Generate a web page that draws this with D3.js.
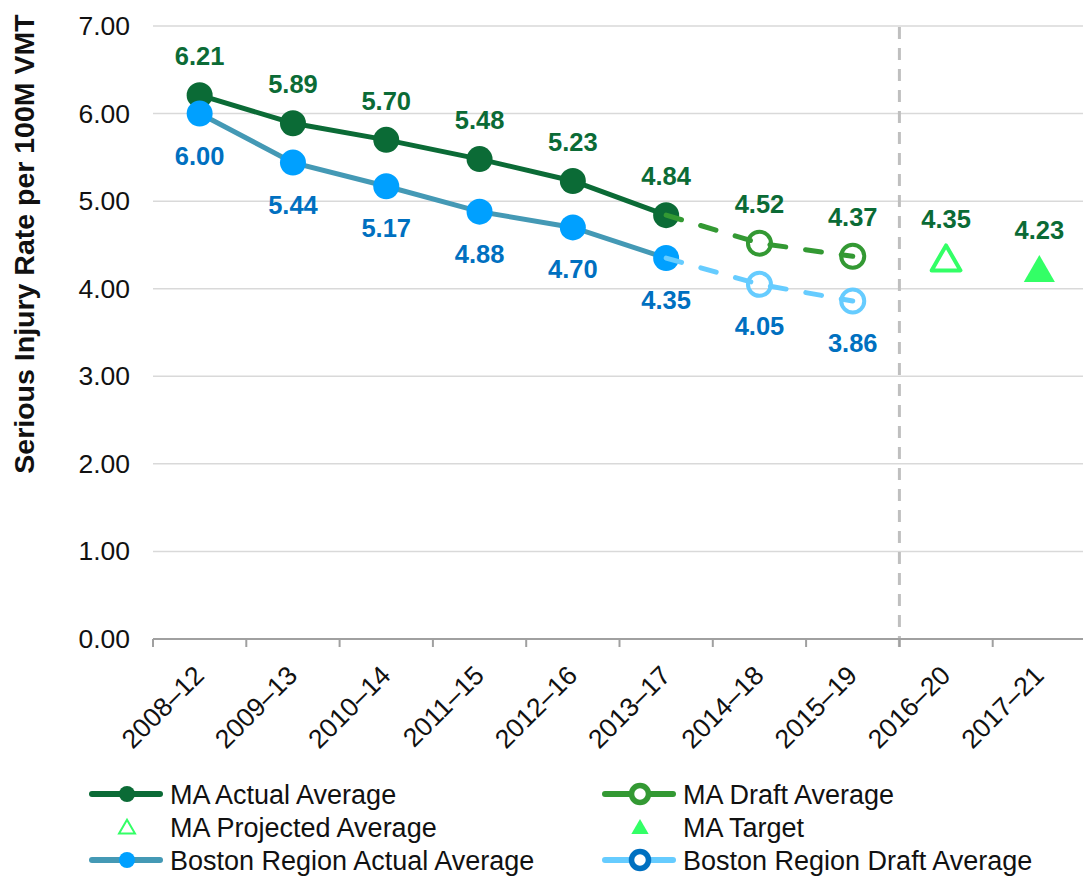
<!DOCTYPE html>
<html lang="en">
<head>
    <meta charset="UTF-8">
    <title>Serious Injury Rate per 100M VMT</title>
    <script src="https://d3js.org/d3.v7.min.js"></script>
    <style>
        body {
            margin: 0;
            background: #fff;
            font-family: "Liberation Sans", Arial, sans-serif;
        }
        svg text {
            font-family: "Liberation Sans", Arial, sans-serif;
        }
    </style>
</head>
<body>
    <div id="chart"></div>

    <script>
        // periods on the x axis
        const periods = ["2008–12", "2009–13", "2010–14", "2011–15", "2012–16",
                         "2013–17", "2014–18", "2015–19", "2016–20", "2017–21"];

        // series values
        const maActualPeriods = periods.slice(0, 6);
        const maActual = [6.21, 5.89, 5.70, 5.48, 5.23, 4.84];
        const bostonActual = [6.00, 5.44, 5.17, 4.88, 4.70, 4.35];

        const draftPeriods = periods.slice(5, 8);
        const maDraft = [4.84, 4.52, 4.37];
        const bostonDraft = [4.35, 4.05, 3.86];

        const projectedPeriod = "2016–20";
        const maProjected = 4.35;
        const targetPeriod = "2017–21";
        const maTarget = 4.23;

        const yTicks = [0, 1, 2, 3, 4, 5, 6, 7];

        const colors = {
            maActual: "#0b6b36",
            maDraft: "#339933",
            bostonLine: "#4499b5",
            bostonDot: "#00a0ff",
            bostonLabel: "#0070c0",
            bostonDraft: "#66ccff",
            target: "#33ff66",
            grid: "#d9d9d9",
            axis: "#a0a0a0"
        };

        const width = 1083, height = 876;
        const svg = d3.select("#chart").append("svg")
            .attr("width", width)
            .attr("height", height);

        const x = d3.scaleBand().domain(periods).range([153, 1086]);
        const cx = d => x(d) + x.bandwidth() / 2;
        const y = d3.scaleLinear().domain([0, 7]).range([639, 26]);

        // gridlines
        svg.append("g")
            .selectAll("line")
            .data(yTicks.filter(t => t > 0))
            .enter()
            .append("line")
            .attr("x1", 153).attr("x2", 1086)
            .attr("y1", d => y(d)).attr("y2", d => y(d))
            .attr("stroke", colors.grid)
            .attr("stroke-width", 1.5);

        // y tick labels
        svg.append("g")
            .selectAll("text")
            .data(yTicks)
            .enter()
            .append("text")
            .attr("x", 130)
            .attr("y", d => y(d) + 9)
            .attr("text-anchor", "end")
            .attr("font-size", 26.5)
            .attr("fill", "#111")
            .text(d => d.toFixed(2));

        // y axis title
        svg.append("text")
            .attr("transform", "translate(34,244) rotate(-90)")
            .attr("text-anchor", "middle")
            .attr("font-size", 28.5)
            .attr("font-weight", "bold")
            .attr("fill", "#111")
            .text("Serious Injury Rate per 100M VMT");

        // vertical divider between draft and projected periods
        svg.append("line")
            .attr("x1", x(projectedPeriod)).attr("x2", x(projectedPeriod))
            .attr("y1", 27).attr("y2", 647)
            .attr("stroke", "#bfbfbf")
            .attr("stroke-width", 3)
            .attr("stroke-dasharray", "12,9");

        // x axis
        const xAxis = svg.append("g");
        xAxis.append("line")
            .attr("x1", 153).attr("x2", 1086)
            .attr("y1", y(0)).attr("y2", y(0))
            .attr("stroke", colors.axis)
            .attr("stroke-width", 2);
        xAxis.selectAll(".tick")
            .data(periods.concat(["end"]))
            .enter()
            .append("line")
            .attr("x1", (d, i) => 153 + i * x.step())
            .attr("x2", (d, i) => 153 + i * x.step())
            .attr("y1", y(0)).attr("y2", y(0) + 8)
            .attr("stroke", colors.axis)
            .attr("stroke-width", 2);
        xAxis.selectAll("text")
            .data(periods)
            .enter()
            .append("text")
            .attr("transform", d => `translate(${cx(d) + 6},677) rotate(-45)`)
            .attr("text-anchor", "end")
            .attr("font-size", 26.5)
            .attr("fill", "#111")
            .text(d => d);

        const line = d3.line()
            .x(d => cx(d.period))
            .y(d => y(d.value));

        const zip = (ps, vs) => ps.map((p, i) => ({ period: p, value: vs[i] }));
        const maActualData = zip(maActualPeriods, maActual);
        const bostonActualData = zip(maActualPeriods, bostonActual);
        const maDraftData = zip(draftPeriods, maDraft);
        const bostonDraftData = zip(draftPeriods, bostonDraft);

        // MA actual
        svg.append("path")
            .datum(maActualData)
            .attr("d", line)
            .attr("fill", "none")
            .attr("stroke", colors.maActual)
            .attr("stroke-width", 5);
        svg.append("g").selectAll("circle")
            .data(maActualData)
            .enter()
            .append("circle")
            .attr("cx", d => cx(d.period))
            .attr("cy", d => y(d.value))
            .attr("r", 13)
            .attr("fill", colors.maActual);

        // Boston actual
        svg.append("path")
            .datum(bostonActualData)
            .attr("d", line)
            .attr("fill", "none")
            .attr("stroke", colors.bostonLine)
            .attr("stroke-width", 5);
        svg.append("g").selectAll("circle")
            .data(bostonActualData)
            .enter()
            .append("circle")
            .attr("cx", d => cx(d.period))
            .attr("cy", d => y(d.value))
            .attr("r", 13)
            .attr("fill", colors.bostonDot);

        // draft series: hollow markers, line drawn over them
        function drawDraft(data, color) {
            const g = svg.append("g");
            g.selectAll("circle")
                .data(data.slice(1))
                .enter()
                .append("circle")
                .attr("cx", d => cx(d.period))
                .attr("cy", d => y(d.value))
                .attr("r", 11.5)
                .attr("fill", "none")
                .attr("stroke", color)
                .attr("stroke-width", 4);
            g.append("path")
                .datum(data)
                .attr("d", line)
                .attr("fill", "none")
                .attr("stroke", color)
                .attr("stroke-width", 5)
                .attr("stroke-linecap", "round")
                .attr("stroke-dasharray", "16,20");
        }
        drawDraft(maDraftData, colors.maDraft);
        drawDraft(bostonDraftData, colors.bostonDraft);

        // projected and target triangles
        const tri = d3.symbol().type(d3.symbolTriangle);
        svg.append("path")
            .attr("d", tri.size(360)())
            .attr("transform", `translate(${cx(projectedPeriod)},${y(maProjected) + 4})`)
            .attr("fill", "#fff")
            .attr("stroke", colors.target)
            .attr("stroke-width", 4)
            .attr("stroke-linejoin", "round");
        svg.append("path")
            .attr("d", tri.size(420)())
            .attr("transform", `translate(${cx(targetPeriod)},${y(maTarget) + 4.5})`)
            .attr("fill", colors.target);

        // data labels
        const labels = svg.append("g")
            .attr("font-size", 25.5)
            .attr("font-weight", "bold")
            .attr("text-anchor", "middle");
        const maLabels = maActualData
            .concat(maDraftData.slice(1))
            .concat([{ period: projectedPeriod, value: maProjected },
                     { period: targetPeriod, value: maTarget }]);
        labels.selectAll(".ma")
            .data(maLabels)
            .enter()
            .append("text")
            .attr("x", d => cx(d.period))
            .attr("y", d => y(d.value) - 30)
            .attr("fill", colors.maActual)
            .text(d => d.value.toFixed(2));
        const bostonLabels = bostonActualData.concat(bostonDraftData.slice(1));
        labels.selectAll(".boston")
            .data(bostonLabels)
            .enter()
            .append("text")
            .attr("x", d => cx(d.period))
            .attr("y", d => y(d.value) + 51)
            .attr("fill", colors.bostonLabel)
            .text(d => d.value.toFixed(2));

        // legend
        const legendItems = [
            { name: "MA Actual Average", col: 0, row: 0, kind: "line-dot", line: colors.maActual, dot: colors.maActual },
            { name: "MA Draft Average", col: 1, row: 0, kind: "line-ring", line: colors.maDraft, dot: colors.maDraft },
            { name: "MA Projected Average", col: 0, row: 1, kind: "tri-open", dot: colors.target },
            { name: "MA Target", col: 1, row: 1, kind: "tri-fill", dot: colors.target },
            { name: "Boston Region Actual Average", col: 0, row: 2, kind: "line-dot", line: colors.bostonLine, dot: colors.bostonDot },
            { name: "Boston Region Draft Average", col: 1, row: 2, kind: "line-ring", line: colors.bostonDraft, dot: colors.bostonLabel }
        ];
        const colX = [92, 605];
        const rowY = [794, 827, 860];

        const legend = svg.append("g");
        legendItems.forEach(item => {
            const g = legend.append("g")
                .attr("transform", `translate(${colX[item.col]},${rowY[item.row]})`);
            if (item.kind.startsWith("line")) {
                g.append("line")
                    .attr("x1", 0).attr("x2", 68)
                    .attr("stroke", item.line)
                    .attr("stroke-width", 6)
                    .attr("stroke-linecap", "round");
            }
            if (item.kind === "line-dot") {
                g.append("circle").attr("cx", 35).attr("r", 8).attr("fill", item.dot);
            } else if (item.kind === "line-ring") {
                g.append("circle").attr("cx", 35).attr("r", 8.5)
                    .attr("fill", "#fff").attr("stroke", item.dot).attr("stroke-width", 5.5);
            } else if (item.kind === "tri-open") {
                g.append("path").attr("d", tri.size(110)())
                    .attr("transform", "translate(35,2)")
                    .attr("fill", "#fff").attr("stroke", item.dot).attr("stroke-width", 2);
            } else {
                g.append("path").attr("d", tri.size(130)())
                    .attr("transform", "translate(35,2)")
                    .attr("fill", item.dot);
            }
            g.append("text")
                .attr("x", 78)
                .attr("y", 9.5)
                .attr("font-size", 27)
                .attr("fill", "#111")
                .text(item.name);
        });
    </script>
</body>
</html>
